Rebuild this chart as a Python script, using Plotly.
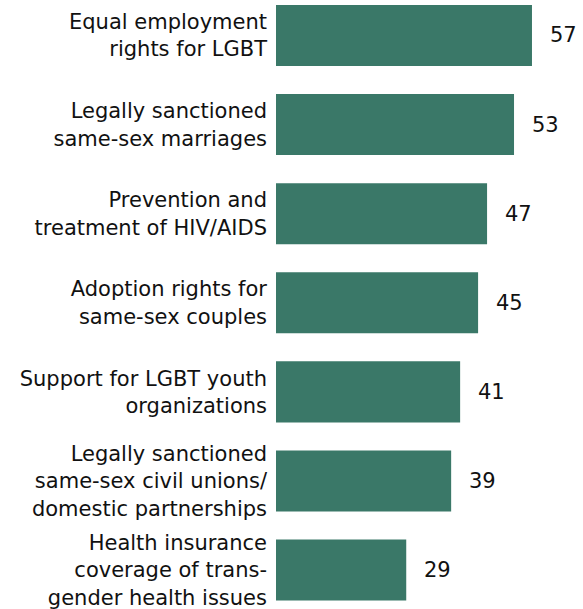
import plotly.graph_objects as go

categories = [
    "Equal employment<br>rights for LGBT",
    "Legally sanctioned<br>same-sex marriages",
    "Prevention and<br>treatment of HIV/AIDS",
    "Adoption rights for<br>same-sex couples",
    "Support for LGBT youth<br>organizations",
    "Legally sanctioned<br>same-sex civil unions/<br>domestic partnerships",
    "Health insurance<br>coverage of trans-<br>gender health issues",
]
values = [57, 53, 47, 45, 41, 39, 29]

BAR = "#3a7868"
FONT = "DejaVu Sans, Verdana, sans-serif"

fig = go.Figure(go.Bar(
    x=values, y=categories, orientation="h",
    marker=dict(color=BAR, line=dict(width=0)),
    hoverinfo="skip",
))

for c, v in zip(categories, values):
    fig.add_annotation(x=v, y=c, text=str(v), showarrow=False,
                       xanchor="left", xshift=16, yanchor="middle",
                       font=dict(size=21, color="#111111", family=FONT))

fig.update_layout(
    width=583, height=609,
    margin=dict(l=276, r=0, t=0, b=0),
    paper_bgcolor="white", plot_bgcolor="white",
    bargap=0.315,
    showlegend=False,
    font=dict(family=FONT, size=21, color="#111111"),
)
fig.update_xaxes(range=[0, 68.36], visible=False, automargin=False)
fig.update_yaxes(range=[6.437, -0.398], showgrid=False, zeroline=False,
                 showline=False, ticks="", ticklabelstandoff=8, automargin=False,
                 tickfont=dict(size=21, family=FONT, color="#111111"))

fig.write_html("out.html",
               config={"displayModeBar": False},
               post_script="document.body.style.margin='0';document.body.style.overflow='hidden';")
